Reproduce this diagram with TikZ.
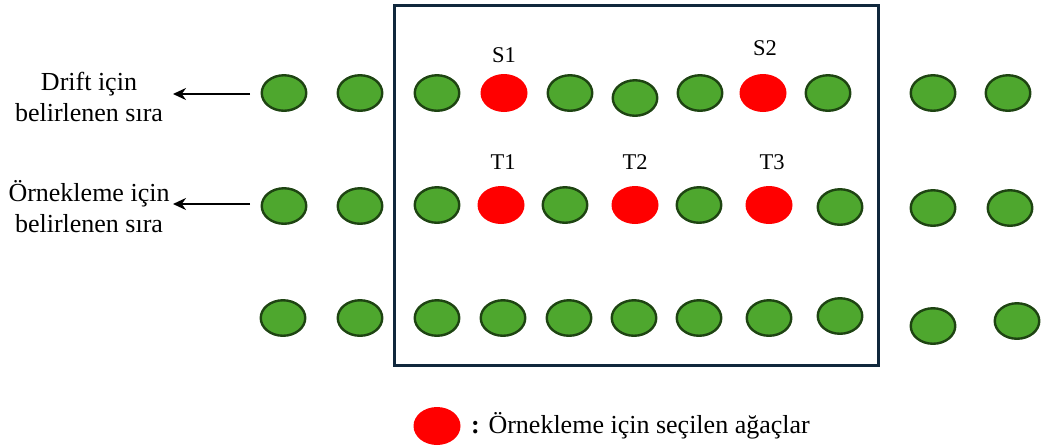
\documentclass[tikz,border=0pt]{standalone}
\usepackage{fontspec}
\setmainfont{Liberation Serif}
\usetikzlibrary{shapes.geometric,arrows.meta}
\definecolor{treegreen}{RGB}{78,167,46}
\definecolor{treeedge}{RGB}{30,68,18}
\definecolor{boxcol}{RGB}{16,40,60}
\tikzset{
  gtree/.style={ellipse, draw=treeedge, line width=2.4pt, fill=treegreen, minimum width=44.5pt, minimum height=35.5pt, inner sep=0pt},
  rtree/.style={ellipse, fill=red, minimum width=47pt, minimum height=38pt, inner sep=0pt},
  lbl/.style={font=\fontsize{22.5}{26}\selectfont, inner sep=0pt},
  side/.style={font=\fontsize{26}{31}\selectfont, align=center, inner sep=0pt},
  arr/.style={line width=2.4pt, -{Stealth[length=13pt,width=12pt]}}
}
\begin{document}
\begin{tikzpicture}[x=1pt,y=-1pt]
\useasboundingbox (0,0) rectangle (1041,445);
% plot box
\node[draw=boxcol, line width=3pt, minimum width=484pt, minimum height=360pt, inner sep=0pt] (box) at (636,185) {};
% row 1
\node[gtree] (a1) at (284,93) {};
\node[gtree] (a2) at (360,93) {};
\node[gtree] (a3) at (437,93) {};
\node[rtree] (a4) at (504,93) {};
\node[gtree] (a5) at (570,93) {};
\node[gtree] (a6) at (635,98) {};
\node[gtree] (a7) at (700,93) {};
\node[rtree] (a8) at (763,93) {};
\node[gtree] (a9) at (828,93) {};
\node[gtree] (a10) at (933,93) {};
\node[gtree] (a11) at (1008,93) {};
% row 2
\node[gtree] (b1) at (284,206) {};
\node[gtree] (b2) at (360,206) {};
\node[gtree] (b3) at (437,205) {};
\node[rtree] (b4) at (501,205) {};
\node[gtree] (b5) at (565,205) {};
\node[rtree] (b6) at (635,205) {};
\node[gtree] (b7) at (699,205) {};
\node[rtree] (b8) at (769,205) {};
\node[gtree] (b9) at (840,207) {};
\node[gtree] (b10) at (933,208) {};
\node[gtree] (b11) at (1010,208) {};
% row 3
\node[gtree] (c1) at (283,318) {};
\node[gtree] (c2) at (360,318) {};
\node[gtree] (c3) at (437,318) {};
\node[gtree] (c4) at (503,318) {};
\node[gtree] (c5) at (569,318) {};
\node[gtree] (c6) at (634,318) {};
\node[gtree] (c7) at (699,318) {};
\node[gtree] (c8) at (769,318) {};
\node[gtree] (c9) at (840,316) {};
\node[gtree] (c10) at (933,326) {};
\node[gtree] (c11) at (1017,321) {};
% labels
\node[lbl] (s1) at (504,55) {S1};
\node[lbl] (s2) at (765,48) {S2};
\node[lbl] (t1) at (503,162) {T1};
\node[lbl] (t2) at (635,162) {T2};
\node[lbl] (t3) at (772,162) {T3};
% side labels
\node[side] (drift) at (89,97) {Drift için\\belirlenen sıra};
\node[side] (ornek) at (89,207) {Örnekleme için\\belirlenen sıra};
\coordinate (d1) at (250,94);
\coordinate (d2) at (173,94);
\coordinate (o1) at (250,204);
\coordinate (o2) at (173,204);
\draw[arr] (d1) -- (d2);
\draw[arr] (o1) -- (o2);
% legend
\node[rtree] (leg) at (437,426) {};
\node[side, anchor=west] (legtxt) at (471,426) {\textbf{:} Örnekleme için seçilen ağaçlar};
\end{tikzpicture}
\end{document}
